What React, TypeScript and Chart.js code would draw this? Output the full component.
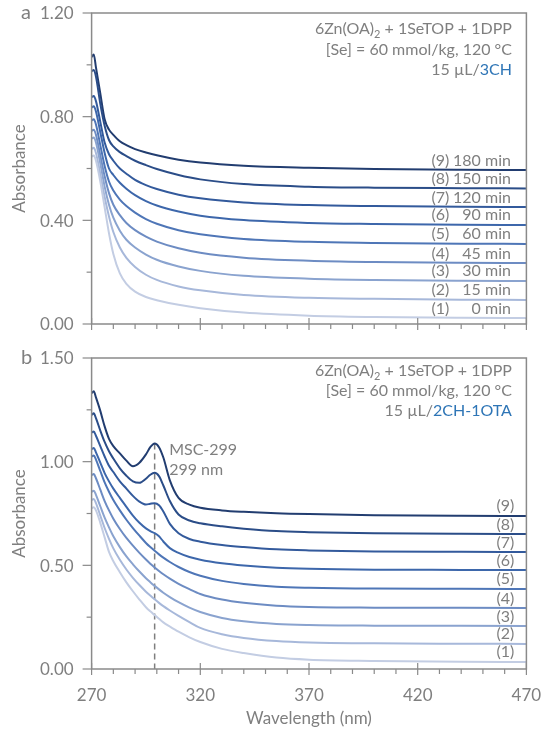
import React, { useEffect, useRef } from 'react';
import { Chart, registerables } from 'chart.js';

Chart.register(...registerables);

const FONT = 'Lato, "Noto Sans", sans-serif';
const GREY = '#7f7f7f';
const AXIS = '#8a8a8a';
const BLUE_TXT = '#2e75b6';

// ---------- Panel a data ----------
const WAVE_A = [270, 271, 272, 274, 276, 278, 280, 283, 286, 290, 295, 300, 310, 320, 340, 370, 400, 440, 470];
const A_1 = [0.645, 0.65, 0.63, 0.55, 0.45, 0.35, 0.27, 0.195, 0.155, 0.125, 0.104, 0.092, 0.074, 0.061, 0.044, 0.032, 0.027, 0.024, 0.023];
const A_2 = [0.675, 0.68, 0.66, 0.58, 0.49, 0.415, 0.355, 0.295, 0.255, 0.22, 0.19, 0.17, 0.145, 0.13, 0.112, 0.101, 0.097, 0.094, 0.093];
const A_3 = [0.715, 0.72, 0.70, 0.62, 0.53, 0.46, 0.41, 0.36, 0.325, 0.295, 0.268, 0.248, 0.222, 0.205, 0.186, 0.175, 0.170, 0.167, 0.166];
const A_4 = [0.745, 0.75, 0.73, 0.65, 0.57, 0.505, 0.46, 0.42, 0.39, 0.362, 0.337, 0.318, 0.292, 0.275, 0.256, 0.244, 0.239, 0.236, 0.235];
const A_5 = [0.785, 0.79, 0.77, 0.69, 0.61, 0.55, 0.515, 0.48, 0.455, 0.43, 0.405, 0.387, 0.362, 0.346, 0.328, 0.317, 0.313, 0.310, 0.309];
const A_6 = [0.835, 0.84, 0.82, 0.74, 0.66, 0.60, 0.575, 0.545, 0.522, 0.497, 0.474, 0.457, 0.434, 0.418, 0.401, 0.390, 0.386, 0.383, 0.382];
const A_7 = [0.875, 0.88, 0.86, 0.78, 0.70, 0.655, 0.63, 0.60, 0.58, 0.556, 0.536, 0.521, 0.499, 0.485, 0.469, 0.459, 0.455, 0.452, 0.451];
const A_8 = [0.975, 0.98, 0.955, 0.85, 0.765, 0.71, 0.685, 0.663, 0.648, 0.63, 0.613, 0.598, 0.575, 0.558, 0.540, 0.530, 0.526, 0.524, 0.523];
const A_9 = [1.03, 1.04, 0.99, 0.89, 0.79, 0.75, 0.73, 0.705, 0.690, 0.675, 0.662, 0.651, 0.634, 0.623, 0.611, 0.603, 0.598, 0.595, 0.594];

// ---------- Panel b data ----------
const WAVE_B = [270, 271, 272, 274, 276, 278, 280, 283, 286, 289, 292, 295, 297, 299, 301, 303, 306, 310, 315, 320, 330, 340, 355, 370, 400, 440, 470];
const B_1 = [0.775, 0.78, 0.765, 0.705, 0.635, 0.565, 0.52, 0.467, 0.418, 0.375, 0.335, 0.298, 0.278, 0.26, 0.242, 0.225, 0.205, 0.18, 0.153, 0.13, 0.097, 0.077, 0.055, 0.045, 0.039, 0.035, 0.034];
const B_2 = [0.815, 0.82, 0.80, 0.74, 0.68, 0.628, 0.582, 0.527, 0.48, 0.44, 0.405, 0.373, 0.354, 0.336, 0.319, 0.303, 0.282, 0.256, 0.226, 0.198, 0.168, 0.150, 0.135, 0.128, 0.124, 0.122, 0.121];
const B_3 = [0.855, 0.86, 0.84, 0.785, 0.73, 0.683, 0.64, 0.588, 0.543, 0.505, 0.47, 0.438, 0.419, 0.401, 0.384, 0.368, 0.347, 0.322, 0.296, 0.275, 0.246, 0.23, 0.217, 0.212, 0.209, 0.208, 0.207];
const B_4 = [0.935, 0.94, 0.92, 0.865, 0.81, 0.765, 0.725, 0.675, 0.632, 0.595, 0.56, 0.528, 0.508, 0.49, 0.473, 0.457, 0.436, 0.411, 0.385, 0.362, 0.335, 0.319, 0.305, 0.299, 0.296, 0.295, 0.294];
const B_5 = [1.025, 1.03, 1.01, 0.955, 0.90, 0.855, 0.815, 0.765, 0.72, 0.68, 0.643, 0.608, 0.588, 0.57, 0.553, 0.537, 0.516, 0.492, 0.468, 0.45, 0.425, 0.41, 0.397, 0.392, 0.388, 0.387, 0.386];
const B_6 = [1.06, 1.066, 1.045, 0.995, 0.945, 0.905, 0.87, 0.825, 0.782, 0.74, 0.705, 0.678, 0.665, 0.655, 0.64, 0.615, 0.583, 0.56, 0.54, 0.527, 0.51, 0.499, 0.488, 0.483, 0.479, 0.478, 0.477];
const B_7 = [1.14, 1.145, 1.125, 1.075, 1.025, 0.98, 0.95, 0.905, 0.87, 0.835, 0.807, 0.793, 0.797, 0.80, 0.79, 0.76, 0.70, 0.655, 0.627, 0.614, 0.598, 0.588, 0.577, 0.572, 0.567, 0.565, 0.564];
const B_8 = [1.225, 1.233, 1.21, 1.15, 1.095, 1.05, 1.015, 0.968, 0.932, 0.905, 0.898, 0.918, 0.937, 0.946, 0.93, 0.885, 0.81, 0.745, 0.716, 0.703, 0.688, 0.677, 0.665, 0.66, 0.655, 0.652, 0.651];
const B_9 = [1.33, 1.34, 1.31, 1.245, 1.17, 1.11, 1.075, 1.04, 1.005, 0.978, 0.995, 1.035, 1.07, 1.088, 1.07, 1.02, 0.91, 0.825, 0.793, 0.778, 0.765, 0.758, 0.751, 0.747, 0.742, 0.739, 0.738];

const TIMES = [0, 15, 30, 45, 60, 90, 120, 150, 180];
const COLORS = ['#c3cde3', '#a7b8da', '#8aa3cf', '#6d8cc3', '#4f76b7', '#3d67ab', '#335a9c', '#2b4d88', '#223d70'];

const X_MIN = 270, X_MAX = 470, X_STEP = 10, X_LABEL_STEP = 50;
const A_Y_MAX = 1.2, A_Y_STEP = 0.2, A_Y_LABEL_STEP = 0.4;
const B_Y_MAX = 1.5, B_Y_STEP = 0.25, B_Y_LABEL_STEP = 0.5;
const MSC_NM = 299;

const isMultiple = (v: number, step: number) => {
  const r = v / step;
  return Math.abs(r - Math.round(r)) < 1e-6;
};

function makeDatasets(wave: number[], series: number[][]) {
  return series.map((vals, i) => ({
    label: `(${i + 1})`,
    data: wave.map((w, j) => ({ x: w, y: vals[j] })),
    borderColor: COLORS[i],
    borderWidth: 2,
    pointRadius: 0,
    fill: false,
    tension: 0.4,
    cubicInterpolationMode: 'monotone' as const,
  }));
}

type Part = { t: string; size: number; color: string; dy?: number };
function drawRichRight(ctx: CanvasRenderingContext2D, parts: Part[], xRight: number, y: number) {
  let total = 0;
  const widths = parts.map((p) => {
    ctx.font = `${p.size}px ${FONT}`;
    const w = ctx.measureText(p.t).width;
    total += w;
    return w;
  });
  let x = xRight - total;
  parts.forEach((p, i) => {
    ctx.font = `${p.size}px ${FONT}`;
    ctx.fillStyle = p.color;
    ctx.textAlign = 'left';
    ctx.textBaseline = 'alphabetic';
    ctx.fillText(p.t, x, y + (p.dy || 0));
    x += widths[i];
  });
}

function makeAxisPlugin(yLabelStep: number, showXLabels: boolean) {
  return {
    id: 'axisDecor',
    afterDatasetsDraw(chart: any) {
      const { ctx, chartArea: ca } = chart;
      const x = chart.scales.x, y = chart.scales.y;
      ctx.save();
      ctx.strokeStyle = AXIS;
      ctx.lineWidth = 1.5;
      ctx.beginPath();
      ctx.rect(ca.left, ca.top, ca.right - ca.left, ca.bottom - ca.top);
      ctx.stroke();
      ctx.lineWidth = 1.2;
      ctx.fillStyle = GREY;
      ctx.font = `17px ${FONT}`;
      x.ticks.forEach((t: any) => {
        const px = x.getPixelForValue(t.value);
        const major = isMultiple(t.value - X_MIN, X_LABEL_STEP);
        ctx.beginPath();
        ctx.moveTo(px, major ? ca.bottom - 6 : ca.bottom);
        ctx.lineTo(px, ca.bottom + (major ? 6 : 5));
        ctx.stroke();
        if (major && showXLabels) {
          ctx.textAlign = 'center';
          ctx.textBaseline = 'middle';
          ctx.fillText(String(t.value), px, ca.bottom + 27);
        }
      });
      y.ticks.forEach((t: any) => {
        const py = y.getPixelForValue(t.value);
        const major = isMultiple(t.value, yLabelStep);
        ctx.beginPath();
        ctx.moveTo(ca.left - (major ? 9 : 5), py);
        ctx.lineTo(ca.left, py);
        ctx.stroke();
        if (major) {
          ctx.textAlign = 'right';
          ctx.textBaseline = 'middle';
          ctx.fillText(Number(t.value).toFixed(2), ca.left - 18, py + 1);
        }
      });
      ctx.textAlign = 'center';
      ctx.textBaseline = 'middle';
      ctx.translate(20, (ca.top + ca.bottom) / 2);
      ctx.rotate(-Math.PI / 2);
      ctx.fillText('Absorbance', 0, 0);
      ctx.restore();
    },
  };
}

function headerParts(lastBlue: string): Part[][] {
  return [
    [
      { t: '6Zn(OA)', size: 16, color: GREY },
      { t: '2', size: 11, color: GREY, dy: 4 },
      { t: ' + 1SeTOP + 1DPP', size: 16, color: GREY },
    ],
    [{ t: '[Se] = 60 mmol/kg, 120 °C', size: 16, color: GREY }],
    [
      { t: '15 µL/', size: 16, color: GREY },
      { t: lastBlue, size: 16, color: BLUE_TXT },
    ],
  ];
}

const decorA = {
  id: 'decorA',
  afterDraw(chart: any) {
    const { ctx, chartArea: ca } = chart;
    const y = chart.scales.y;
    ctx.save();
    ctx.fillStyle = GREY;
    ctx.font = `20px ${FONT}`;
    ctx.textAlign = 'left';
    ctx.textBaseline = 'alphabetic';
    ctx.fillText('a', 21, 19);
    const lines = headerParts('3CH');
    const bases = [33.5, 55, 74.5];
    lines.forEach((l, i) => drawRichRight(ctx, l, ca.right - 14.5, bases[i]));
    chart.data.datasets.forEach((ds: any, i: number) => {
      const last = ds.data[ds.data.length - 1];
      const py = y.getPixelForValue(last.y) - 4.5;
      ctx.font = `16px ${FONT}`;
      ctx.fillStyle = GREY;
      ctx.textBaseline = 'alphabetic';
      ctx.textAlign = 'left';
      ctx.fillText(`(${i + 1})`, ca.right - 95, py);
      ctx.textAlign = 'right';
      ctx.fillText(`${TIMES[i]} min`, ca.right - 15.5, py);
    });
    ctx.restore();
  },
};

const decorB = {
  id: 'decorB',
  beforeDatasetsDraw(chart: any) {
    const { ctx, chartArea: ca } = chart;
    const x = chart.scales.x, y = chart.scales.y;
    const idx = WAVE_B.indexOf(MSC_NM);
    const px = x.getPixelForValue(MSC_NM);
    const top = y.getPixelForValue(B_9[idx]);
    ctx.save();
    ctx.strokeStyle = GREY;
    ctx.lineWidth = 1.5;
    ctx.setLineDash([6, 4]);
    ctx.beginPath();
    ctx.moveTo(px, top);
    ctx.lineTo(px, ca.bottom);
    ctx.stroke();
    ctx.restore();
  },
  afterDraw(chart: any) {
    const { ctx, chartArea: ca } = chart;
    const x = chart.scales.x, y = chart.scales.y;
    ctx.save();
    ctx.fillStyle = GREY;
    ctx.font = `20px ${FONT}`;
    ctx.textAlign = 'left';
    ctx.textBaseline = 'alphabetic';
    ctx.fillText('b', 21, 23.5);
    const lines = headerParts('2CH-1OTA');
    const bases = [35.5, 56, 76];
    lines.forEach((l, i) => drawRichRight(ctx, l, ca.right - 14.5, bases[i]));
    const px = x.getPixelForValue(MSC_NM);
    ctx.font = `16px ${FONT}`;
    ctx.fillStyle = GREY;
    ctx.textAlign = 'left';
    ctx.fillText(`MSC-${MSC_NM}`, px + 14.5, 115);
    ctx.fillText(`${MSC_NM} nm`, px + 14.5, 135);
    chart.data.datasets.forEach((ds: any, i: number) => {
      const last = ds.data[ds.data.length - 1];
      const py = y.getPixelForValue(last.y) - 4.5;
      ctx.textAlign = 'center';
      ctx.fillText(`(${i + 1})`, ca.right - 21, py);
    });
    ctx.font = `17px ${FONT}`;
    ctx.textAlign = 'center';
    ctx.textBaseline = 'middle';
    ctx.fillText('Wavelength (nm)', (ca.left + ca.right) / 2, 379);
    ctx.restore();
  },
};

function makeOptions(yMax: number, yStep: number, topPad: number, xHeight: number) {
  return {
    responsive: false,
    animation: false as const,
    layout: { padding: { left: 0, right: 15.6, top: topPad, bottom: 0 } },
    plugins: { legend: { display: false }, tooltip: { enabled: false } },
    scales: {
      x: {
        type: 'linear' as const,
        min: X_MIN,
        max: X_MAX,
        grid: { display: false, drawTicks: false },
        border: { display: false },
        ticks: { display: false, stepSize: X_STEP, autoSkip: false },
        afterFit: (s: any) => {
          s.height = xHeight;
        },
      },
      y: {
        type: 'linear' as const,
        min: 0,
        max: yMax,
        grid: { display: false, drawTicks: false },
        border: { display: false },
        ticks: { display: false, stepSize: yStep, autoSkip: false },
        afterFit: (s: any) => {
          s.width = 91.6;
        },
      },
    },
  };
}

export default function App() {
  const refA = useRef<HTMLCanvasElement>(null);
  const refB = useRef<HTMLCanvasElement>(null);

  useEffect(() => {
    const chartA = new Chart(refA.current as HTMLCanvasElement, {
      type: 'line',
      data: { datasets: makeDatasets(WAVE_A, [A_1, A_2, A_3, A_4, A_5, A_6, A_7, A_8, A_9]) as any },
      options: makeOptions(A_Y_MAX, A_Y_STEP, 13, 16) as any,
      plugins: [makeAxisPlugin(A_Y_LABEL_STEP, false), decorA],
    });
    const chartB = new Chart(refB.current as HTMLCanvasElement, {
      type: 'line',
      data: { datasets: makeDatasets(WAVE_B, [B_1, B_2, B_3, B_4, B_5, B_6, B_7, B_8, B_9]) as any },
      options: makeOptions(B_Y_MAX, B_Y_STEP, 18, 62) as any,
      plugins: [makeAxisPlugin(B_Y_LABEL_STEP, true), decorB],
    });
    return () => {
      chartA.destroy();
      chartB.destroy();
    };
  }, []);

  return (
    <div style={{ position: 'absolute', left: 0, top: 0, width: 542, height: 731, background: '#fff' }}>
      <canvas ref={refA} width={542} height={340} style={{ position: 'absolute', left: 0, top: 0, display: 'block' }} />
      <canvas ref={refB} width={542} height={391} style={{ position: 'absolute', left: 0, top: 340, display: 'block' }} />
    </div>
  );
}
